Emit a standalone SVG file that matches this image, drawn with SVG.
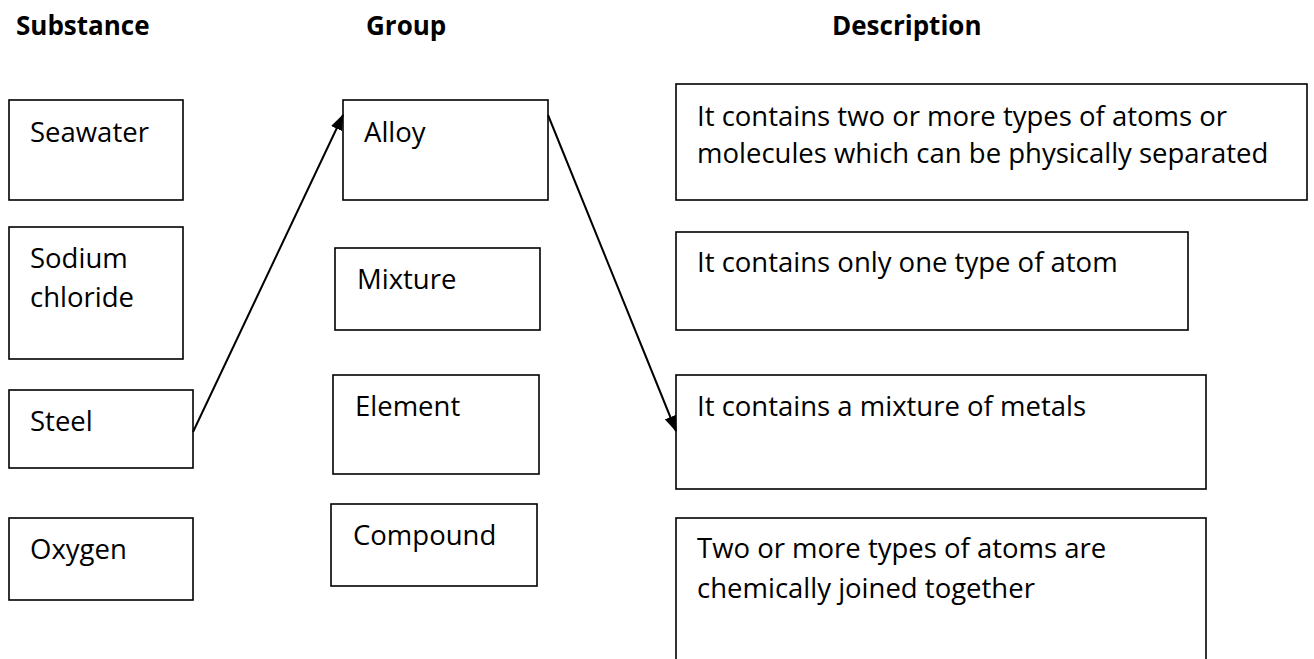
<svg xmlns="http://www.w3.org/2000/svg" width="1314" height="659" viewBox="0 0 1314 659">
<style>
  .box { fill: #fff; stroke: #000; stroke-width: 1.6; }
  .t { font-family: "Open Sans", "Liberation Sans", sans-serif; font-size: 27.5px; fill: #000; }
  .h { font-family: "Open Sans", "Liberation Sans", sans-serif; font-size: 26px; font-weight: bold; fill: #000; }
  .conn { stroke: #000; stroke-width: 2; fill: none; marker-end: url(#arrow); }
</style>
<defs>
  <marker id="arrow" markerUnits="userSpaceOnUse" markerWidth="16" markerHeight="12" refX="15" refY="6" orient="auto">
    <path d="M0,0 L16,6 L0,12 z" fill="#000"/>
  </marker>
</defs>
<rect width="1314" height="659" fill="#fff"/>
<g id="headers">
  <text class="h" x="16" y="35">Substance</text>
  <text class="h" x="366" y="35">Group</text>
  <text class="h" x="832" y="35">Description</text>
</g>
<g id="seawater"><rect class="box" x="9" y="100" width="174" height="100"/><text class="t" x="30" y="142">Seawater</text></g>
<g id="sodium-chloride"><rect class="box" x="9" y="227" width="174" height="132"/><text class="t" x="30" y="268">Sodium</text><text class="t" x="30" y="307">chloride</text></g>
<g id="steel"><rect class="box" x="9" y="390" width="184" height="78"/><text class="t" x="30" y="431">Steel</text></g>
<g id="oxygen"><rect class="box" x="9" y="518" width="184" height="82"/><text class="t" x="30" y="559">Oxygen</text></g>
<g id="alloy"><rect class="box" x="343" y="100" width="205" height="100"/><text class="t" x="364" y="142">Alloy</text></g>
<g id="mixture"><rect class="box" x="335" y="248" width="205" height="82"/><text class="t" x="357" y="289">Mixture</text></g>
<g id="element"><rect class="box" x="333" y="375" width="206" height="99"/><text class="t" x="355" y="416">Element</text></g>
<g id="compound"><rect class="box" x="331" y="504" width="206" height="82"/><text class="t" x="353" y="545">Compound</text></g>
<g id="desc-mixture"><rect class="box" x="676" y="84" width="631" height="116"/><text class="t" x="697" y="126">It contains two or more types of atoms or</text><text class="t" x="697" y="163">molecules which can be physically separated</text></g>
<g id="desc-element"><rect class="box" x="676" y="232" width="512" height="98"/><text class="t" x="697" y="272">It contains only one type of atom</text></g>
<g id="desc-alloy"><rect class="box" x="676" y="375" width="530" height="114"/><text class="t" x="697" y="416">It contains a mixture of metals</text></g>
<g id="desc-compound"><rect class="box" x="676" y="518" width="530" height="160"/><text class="t" x="697" y="558">Two or more types of atoms are</text><text class="t" x="697" y="598">chemically joined together</text></g>
<g id="connectors">
  <line class="conn" x1="193" y1="432" x2="343" y2="115"/>
  <line class="conn" x1="548" y1="115" x2="676" y2="431"/>
</g>
</svg>
